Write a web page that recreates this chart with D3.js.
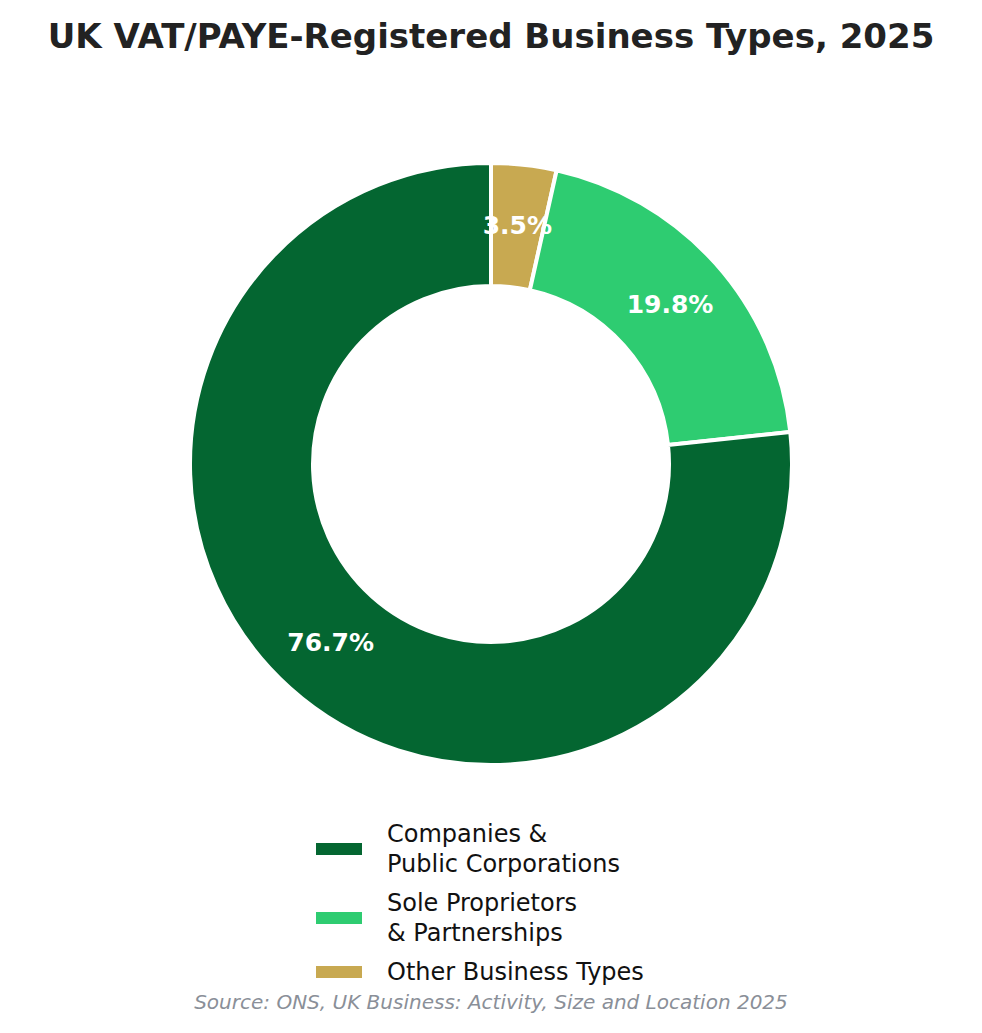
<!DOCTYPE html>
<html><head><meta charset="utf-8">
<script src="https://cdn.jsdelivr.net/npm/d3@7"></script>
<style>body{margin:0;background:#fff}svg{font-family:"DejaVu Sans",sans-serif}</style>
</head><body>
<script>
const categories = ["Other Business Types", "Sole Proprietors & Partnerships", "Companies & Public Corporations"];
const values = [3.5, 19.8, 76.7];
const colors = ["#C8A951", "#2ECC71", "#046631"];
const legendOrder = [2, 1, 0];
const legendLines = [["Companies &", "Public Corporations"], ["Sole Proprietors", "& Partnerships"], ["Other Business Types"]];

const W = 982, H = 1033, cx = 491, cy = 464, R = 301, r = 178;
const svg = d3.select("body").append("svg").attr("width", W).attr("height", H);
svg.append("text").attr("x", W/2).attr("y", 48).attr("text-anchor", "middle")
  .attr("font-size", 34).attr("font-weight", "bold").attr("fill", "#222")
  .text("UK VAT/PAYE-Registered Business Types, 2025");

const pie = d3.pie().sort(null).value(d => d)(values);
const arc = d3.arc().innerRadius(r).outerRadius(R);
const g = svg.append("g").attr("transform", `translate(${cx},${cy})`);
g.selectAll("path").data(pie).join("path").attr("d", arc)
  .attr("fill", (d, i) => colors[i]).attr("stroke", "#fff").attr("stroke-width", 4);
const la = d3.arc().innerRadius(240).outerRadius(240);
g.selectAll("text").data(pie).join("text")
  .attr("transform", d => `translate(${la.centroid(d)})`)
  .attr("text-anchor", "middle").attr("dy", "0.35em")
  .attr("font-size", 25).attr("font-weight", "bold").attr("fill", "#fff")
  .text(d => d.data.toFixed(1) + "%");

const ys = [849, 918, 972];
legendOrder.forEach((ci, k) => {
  const lines = legendLines[k];
  const y = ys[k];
  svg.append("rect").attr("x", 316).attr("y", y - 6).attr("width", 46).attr("height", 12).attr("fill", colors[ci]);
  const t = svg.append("text").attr("x", 387).attr("font-size", 24).attr("fill", "#111");
  const start = y - (lines.length - 1) * 15;
  lines.forEach((l, j) => t.append("tspan").attr("x", 387).attr("y", start + j * 30).attr("dy", "0.35em").text(l));
});

svg.append("text").attr("x", W/2).attr("y", 1009).attr("text-anchor", "middle")
  .attr("font-size", 20).attr("font-style", "italic").attr("fill", "#8a8f98")
  .text("Source: ONS, UK Business: Activity, Size and Location 2025");
</script>
</body></html>
